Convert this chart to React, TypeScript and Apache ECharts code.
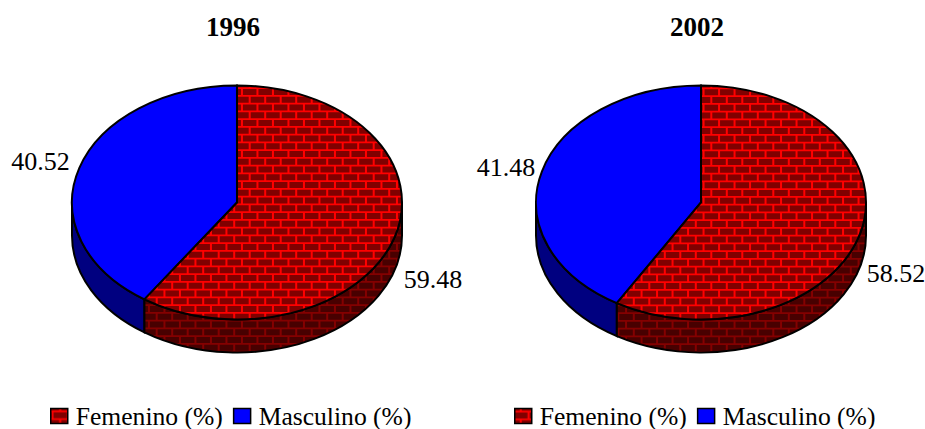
import React, { useEffect, useRef } from "react";
import * as echarts from "echarts";

const categories = ["Femenino (%)", "Masculino (%)"];
const years = ["1996", "2002"];
const values1996 = [59.48, 40.52];
const values2002 = [58.52, 41.48];
const valueLabels1996 = ["59.48", "40.52"];
const valueLabels2002 = ["58.52", "41.48"];

function brick(mortar: string, bg: string, ox: number, oy: number) {
  const c = document.createElement("canvas");
  c.width = 31; c.height = 31;
  const g = c.getContext("2d")!;
  g.fillStyle = mortar; g.fillRect(0, 0, 31, 31);
  g.fillStyle = bg;
  for (let r = -1; r <= 4; r++) {
    for (let k = -2; k <= 3; k++) {
      const x = ox + (r % 2 !== 0 ? 7.75 : 0) + k * 15.5;
      const y = oy + r * 7.75;
      g.fillRect(x, y, 13.5, 6);
    }
  }
  return { image: c, repeat: "repeat" } as any;
}

const RX = 165, RY = 117, DEPTH = 33;
const CENTERS = [237, 701];
const CY = 202.5;
const TEXT_FONT = "Liberation Serif";

function pt(cx: number, a: number) {
  return [cx + RX * Math.sin(a), CY - RY * Math.cos(a)];
}
function arc(cx: number, a0: number, a1: number) {
  const p = pt(cx, a1);
  const large = Math.abs(a1 - a0) > Math.PI ? 1 : 0;
  return `A${RX} ${RY} 0 ${large} ${a1 > a0 ? 1 : 0} ${p[0]} ${p[1]}`;
}

export default function App() {
  const ref = useRef<HTMLDivElement>(null);
  useEffect(() => {
    const chart = echarts.init(ref.current!, undefined, { renderer: "svg" });
    const topPatterns = [brick("#ff0000", "#800000", 2.7, 3.75), brick("#ff0000", "#800000", 14.8, 4)];
    const sidePatterns = [brick("#840000", "#480000", 2.7, 3.75), brick("#840000", "#480000", 14.8, 4)];
    const outline = { stroke: "#000", lineWidth: 2 };

    const makeSeries = (chartIdx: number, catIdx: number, values: number[]) => {
      const fill = catIdx === 0 ? topPatterns[chartIdx] : "#0000ff";
      const sideFill = catIdx === 0 ? sidePatterns[chartIdx] : "#000080";
      return {
        type: "custom",
        name: categories[catIdx],
        coordinateSystem: "none",
        silent: true,
        data: [values[catIdx]],
        itemStyle: { color: fill },
        renderItem: () => {
          const cx = CENTERS[chartIdx];
          const total = values[0] + values[1];
          const split = (values[0] / total) * Math.PI * 2;
          const start = catIdx === 0 ? 0 : split;
          const end = catIdx === 0 ? split : Math.PI * 2;
          const p0 = pt(cx, start);
          const children: any[] = [];
          const s0 = Math.max(start, Math.PI / 2);
          const s1 = Math.min(end, (Math.PI * 3) / 2);
          if (s1 > s0) {
            const a = pt(cx, s0), b = pt(cx, s1);
            const d =
              `M${a[0]} ${a[1]}` + arc(cx, s0, s1) +
              `L${b[0]} ${b[1] + DEPTH}` +
              `A${RX} ${RY} 0 0 0 ${a[0]} ${a[1] + DEPTH}Z`;
            children.push({ type: "path", shape: { pathData: d }, style: { fill: sideFill, ...outline } });
          }
          const d = `M${cx} ${CY}L${p0[0]} ${p0[1]}` + arc(cx, start, end) + "Z";
          children.push({ type: "path", shape: { pathData: d }, style: { fill, ...outline } });
          return { type: "group", children };
        },
      };
    };

    const labelPos = [[[433, 279], [40.5, 161.5]], [[896, 273], [506, 167]]];
    const option: any = {
      animation: false,
      backgroundColor: "#fff",
      title: years.map((y, i) => ({
        text: y, left: i === 0 ? 228 : 692, top: 8,
        textAlign: "center",
        textStyle: { fontFamily: TEXT_FONT, fontWeight: "bold", fontSize: 27, color: "#000" },
      })),
      legend: [0, 1].map((i) => ({
        left: i === 0 ? 45 : 509, top: 398, itemWidth: 17, itemHeight: 15, itemGap: 10,
        selectedMode: false,
        textStyle: { fontFamily: TEXT_FONT, fontSize: 25.6, color: "#000", padding: [0, 0, 0, 3] },
        data: categories.map((n, k) => ({
          name: n, icon: "rect",
          itemStyle: { color: k === 0 ? topPatterns[i] : "#0000ff", borderColor: "#000", borderWidth: 1.5 },
        })),
      })),
      series: [
        makeSeries(0, 1, values1996),
        makeSeries(0, 0, values1996),
        makeSeries(1, 1, values2002),
        makeSeries(1, 0, values2002),
      ],
      graphic: [valueLabels1996, valueLabels2002].flatMap((ls, i) =>
        ls.map((t, k) => ({
          type: "text", x: labelPos[i][k][0], y: labelPos[i][k][1],
          style: { text: t, fill: "#000", font: `26px "${TEXT_FONT}"`, align: "center", verticalAlign: "middle" },
        }))
      ),
    };
    chart.setOption(option);
    return () => chart.dispose();
  }, []);
  return <div ref={ref} style={{ width: 925, height: 429, position: "absolute", left: 0, top: 0 }} />;
}
